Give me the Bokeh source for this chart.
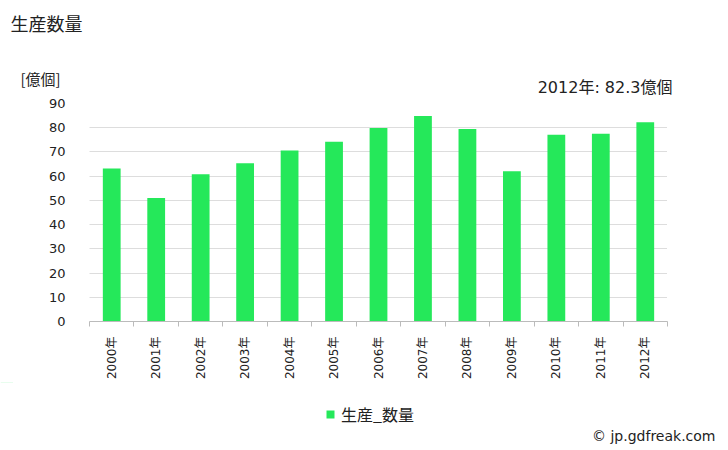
from bokeh.plotting import figure
from bokeh.layouts import column
from bokeh.models import (Range1d, FixedTicker, Label, Legend, LegendItem, ColumnDataSource)
from bokeh.embed import file_html
from bokeh.resources import INLINE
import math

years = ["2000年", "2001年", "2002年", "2003年", "2004年", "2005年", "2006年",
         "2007年", "2008年", "2009年", "2010年", "2011年", "2012年"]
values = [63.2, 51.0, 60.8, 65.3, 70.6, 74.2, 79.9, 84.8, 79.5, 62.0, 77.1, 77.5, 82.3]
y_ticks = [0, 10, 20, 30, 40, 50, 60, 70, 80, 90]

title_text = "生産数量"
unit_text = "[億個]"
note_text = "2012年: 82.3億個"
legend_text = "生産_数量"
credit_text = "© jp.gdfreak.com"

BAR = "#25E85A"
TXT = "#222222"
JP = "'Noto Sans CJK JP'"
NUM = "'DejaVu Sans', 'Noto Sans CJK JP'"

W = 728
TOP_H = 100     # header strip
OVERLAP = 5     # chart strip slides up under the header's bottom edge
MAIN_H = 287    # chart strip
BOT_H = 450 - TOP_H - MAIN_H + OVERLAP


def blank(h, y0):
    f = figure(width=W, height=h, output_backend="svg", toolbar_location=None,
               x_range=Range1d(0, W), y_range=Range1d(y0 + h, y0),
               x_axis_type=None, y_axis_type=None, frame_align=False,
               min_border=0, min_border_left=0, min_border_right=0,
               min_border_top=0, min_border_bottom=0)
    f.outline_line_color = None
    f.xgrid.grid_line_color = None
    f.ygrid.grid_line_color = None
    return f


def lbl(f, text, cx, cy, size, align="left", font=JP):
    f.add_layout(Label(x=cx, y=cy, text=text, text_font=font, text_font_size=size,
                       text_color=TXT, text_align=align, text_baseline="middle"))


# ---- header
top = blank(TOP_H, 0)
lbl(top, title_text, 10, 22, "18px")
lbl(top, unit_text, 20, 78, "15px")
lbl(top, note_text, 672, 87, "16px", "right", NUM)

# ---- main chart
idx = list(range(len(years)))
src = ColumnDataSource(dict(x=idx, top=values, label=years))

p = figure(width=W, height=MAIN_H, output_backend="svg", toolbar_location=None,
           x_range=Range1d(-0.5, len(years) - 0.5), y_range=Range1d(0, 90),
           frame_align=False, margin=(-OVERLAP, 0, 0, 0),
           min_border_left=89, min_border_right=61, min_border_top=8,
           min_border_bottom=58)
p.outline_line_color = None
p.border_fill_alpha = 0

bars = p.vbar(x="x", top="top", width=0.4, source=src, color=BAR, line_color=None)

p.yaxis.ticker = FixedTicker(ticks=y_ticks)
p.yaxis.axis_line_color = None
p.yaxis.major_tick_line_color = None
p.yaxis.minor_tick_line_color = None
p.yaxis.major_label_standoff = 18
p.yaxis.major_label_text_font = NUM
p.yaxis.major_label_text_font_size = "13px"
p.yaxis.major_label_text_color = TXT

p.xaxis.ticker = FixedTicker(ticks=idx, minor_ticks=[i - 0.5 for i in range(len(years) + 1)])
p.xaxis.major_label_overrides = {i: y for i, y in enumerate(years)}
p.xaxis.major_label_orientation = math.pi / 2
p.xaxis.axis_line_color = "#BBBBBB"
p.xaxis.major_tick_line_color = None
p.xaxis.minor_tick_line_color = "#BBBBBB"
p.xaxis.minor_tick_out = 5
p.xaxis.minor_tick_in = 0
p.xaxis.major_tick_out = 0
p.xaxis.major_tick_in = 0
p.xaxis.major_label_standoff = 10
p.xaxis.major_label_text_font = NUM
p.xaxis.major_label_text_font_size = "12px"
p.xaxis.major_label_text_color = TXT

p.xgrid.grid_line_color = None
p.ygrid.grid_line_color = "#BBBBBB"
p.ygrid.grid_line_dash = "1 1"
p.ygrid.ticker = FixedTicker(ticks=y_ticks[1:])

# ---- footer: legend + credit
y0 = TOP_H + MAIN_H - OVERLAP
bot = blank(BOT_H, y0)
# legend proxy sharing the bar data: zero-height and outside this strip's range
proxy = bot.vbar(x="x", top="top", bottom="top", width=0.4, source=src,
                 color=BAR, line_color=None)
legend = Legend(items=[LegendItem(label=legend_text, renderers=[proxy])],
                location=(325, 24), orientation="horizontal",
                glyph_width=10, glyph_height=10, padding=0, margin=0, spacing=0,
                border_line_color=None, background_fill_alpha=0,
                label_text_font=JP, label_text_font_size="16px",
                label_text_color=TXT, label_standoff=6)
bot.add_layout(legend, "center")
lbl(bot, credit_text, 715, 435, "14px", "right", NUM)

layout = column(top, p, bot, spacing=0)
open("out.html", "w").write(file_html(layout, INLINE))
